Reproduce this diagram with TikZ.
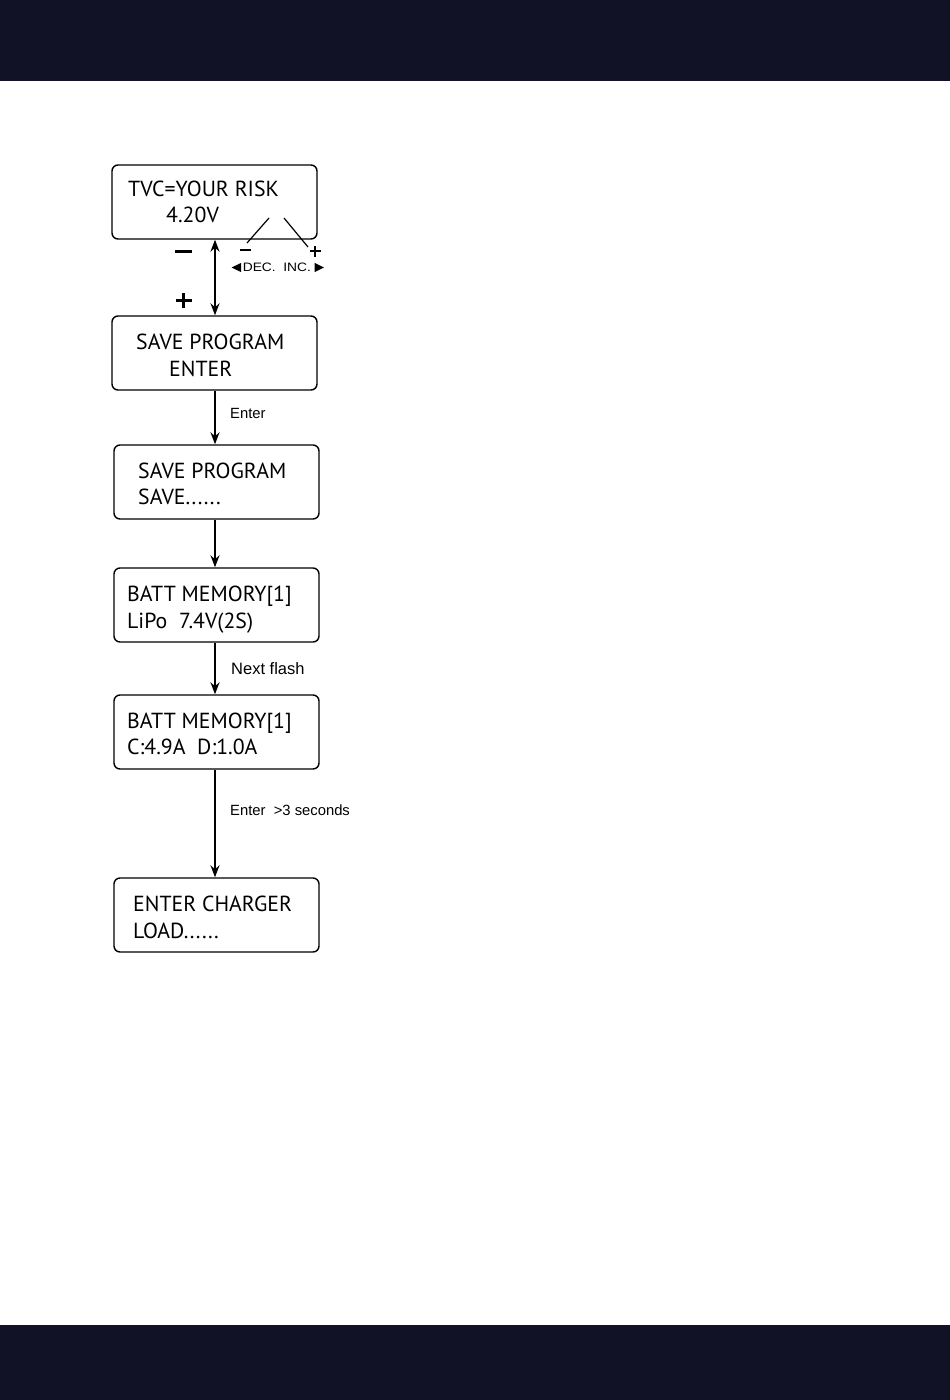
\documentclass[tikz,border=0pt]{standalone}
\usepackage{fontspec}
\setmainfont{PT Sans}
\newfontfamily\arialf{Liberation Sans}
\usetikzlibrary{arrows.meta}
\definecolor{barcol}{HTML}{111226}
\tikzset{
  lcd/.style={draw=black, line width=1.4pt, rounded corners=6pt, minimum width=205pt, minimum height=74pt, inner sep=0pt},
  lcdtext/.style={anchor=base west, inner sep=0pt, font=\fontsize{21.8}{24}\selectfont},
  lbl/.style={anchor=base west, inner sep=0pt, font=\arialf\fontsize{14.8}{16}\selectfont},
  flow/.style={line width=2pt, -{Stealth[length=12pt,width=9pt,inset=4pt]}},
  twoway/.style={line width=2pt, {Stealth[length=12pt,width=9pt,inset=4pt]}-{Stealth[length=12pt,width=9pt,inset=4pt]}},
  thin/.style={line width=1.2pt}
}
\begin{document}
\begin{tikzpicture}[x=1pt,y=-1pt]
\useasboundingbox (0,0) rectangle (950,1400);
\fill[barcol] (0,0) rectangle (950,81);
\fill[barcol] (0,1325) rectangle (950,1400);

% boxes
\node[lcd] (b1) at (214.5,202) {};
\node[lcd] (b2) at (214.5,353) {};
\node[lcd] (b3) at (216.5,482) {};
\node[lcd] (b4) at (216.5,605) {};
\node[lcd] (b5) at (216.5,732) {};
\node[lcd] (b6) at (216.5,915) {};

% texts
\node[lcdtext] (t1a) at (128,196) {TVC=YOUR RISK};
\node[lcdtext] (t1b) at (166,222) {4.20V};
\node[lcdtext] (t2a) at (136,349) {SAVE PROGRAM};
\node[lcdtext] (t2b) at (169,376) {ENTER};
\node[lcdtext] (t3a) at (138,478) {SAVE PROGRAM};
\node[lcdtext] (t3b) at (138,504) {SAVE......};
\node[lcdtext] (t4a) at (127,601) {BATT MEMORY[1]};
\node[lcdtext] (t4b) at (127,628) {LiPo\ \ 7.4V(2S)};
\node[lcdtext] (t5a) at (127,728) {BATT MEMORY[1]};
\node[lcdtext] (t5b) at (127,754) {C:4.9A\ \ D:1.0A};
\node[lcdtext] (t6a) at (133,911) {ENTER CHARGER};
\node[lcdtext] (t6b) at (133,938) {LOAD......};

% connectors
\draw[twoway] (b1.south -| 215,0) -- (b2.north -| 215,0);
\draw[flow] (b2.south -| 215,0) -- (b3.north -| 215,0);
\draw[flow] (b3.south -| 215,0) -- (b4.north -| 215,0);
\draw[flow] (b4.south -| 215,0) -- (b5.north -| 215,0);
\draw[flow] (b5.south -| 215,0) -- (b6.north -| 215,0);

% minus / plus beside double arrow
\fill (175,249.5) rectangle (192,253);
\node[inner sep=0pt] (bigminus) at (183.5,251) {};
\fill (181.8,293) rectangle (185.2,308);
\fill (175.5,298.8) rectangle (191.5,302.2);
\node[inner sep=0pt] (bigplus) at (183.5,300.5) {};

% dec / inc pointers
\coordinate (decA) at (269,218);
\coordinate (decB) at (247,243);
\coordinate (incA) at (284,218);
\coordinate (incB) at (308,247);
\draw[thin] (decA) -- (decB);
\draw[thin] (incA) -- (incB);
\fill (239.8,249) rectangle (250.8,251);
\node[inner sep=0pt] (smallminus) at (245,250) {};
\fill (314.1,245.5) rectangle (316.1,257);
\fill (309.5,250.3) rectangle (320.7,252.3);
\node[inner sep=0pt] (smallplus) at (315,251.3) {};
\fill (231.7,267.5) -- (241.2,262.8) -- (241.2,272.2) -- cycle;
\fill (324,267.5) -- (314.5,262.8) -- (314.5,272.2) -- cycle;
\node[lbl, font=\arialf\fontsize{12.2}{14}\selectfont, xscale=1.13] (decinc) at (242.6,271.8) {DEC.\ \ INC.};

% labels
\node[lbl] (lenter) at (230,418) {Enter};
\node[lbl, font=\arialf\fontsize{16.5}{18}\selectfont] (lnext) at (231,674) {Next flash};
\node[lbl] (lenter3) at (230,815) {Enter\ \ >3 seconds};
\end{tikzpicture}
\end{document}
